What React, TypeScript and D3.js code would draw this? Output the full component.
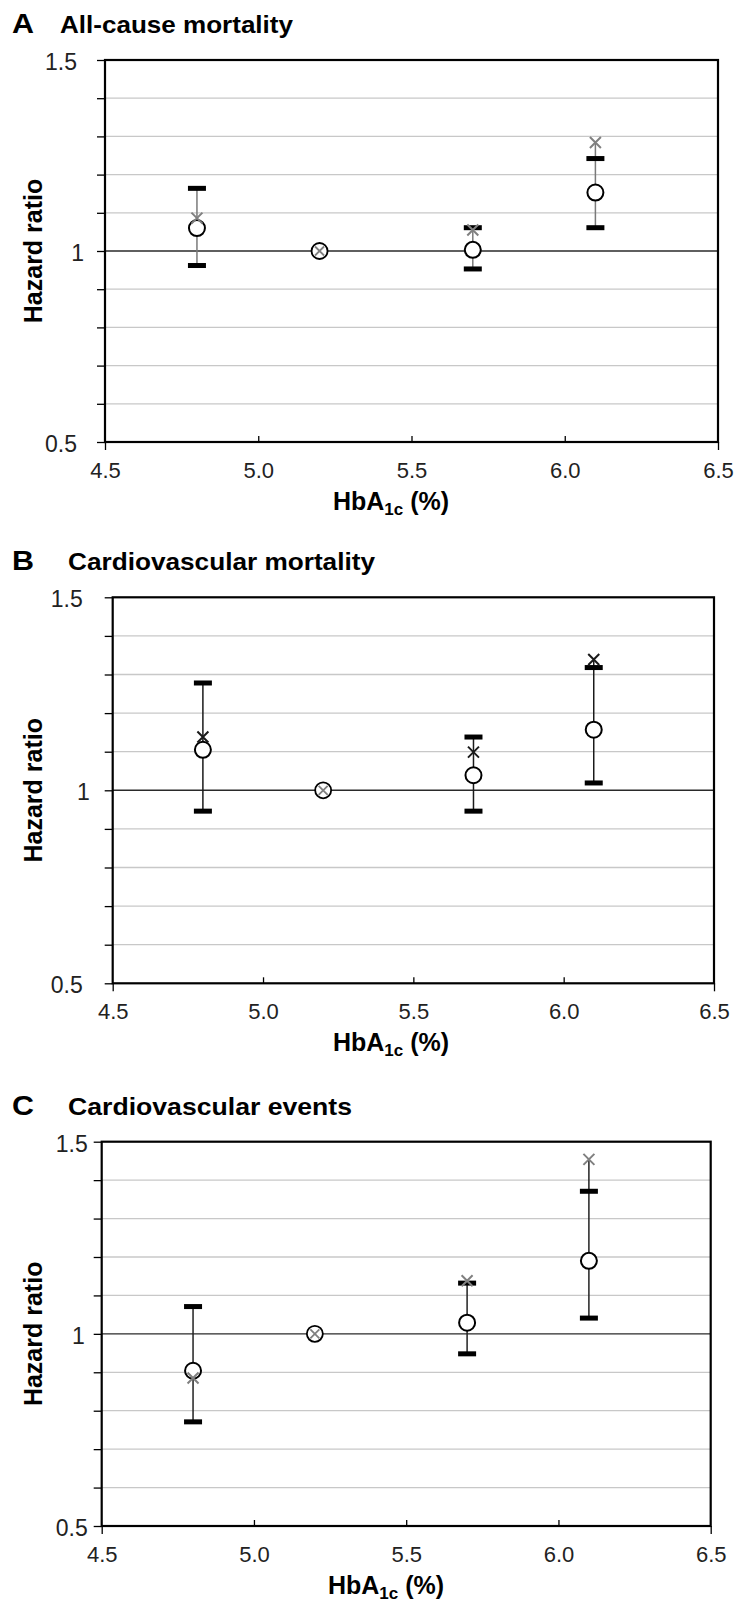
import { useEffect, useRef } from "react"
import * as d3 from "d3"

// HbA1c category midpoints (x) and axis ticks
const hba1c = [4.8, 5.2, 5.7, 6.1]
const xTicks = [4.5, 5.0, 5.5, 6.0, 6.5]
const yTicks = [0.5, 0.6, 0.7, 0.8, 0.9, 1.0, 1.1, 1.2, 1.3, 1.4, 1.5]
const yTickLabels = ["0.5", "", "", "", "", "1", "", "", "", "", "1.5"]
const xTickLabels = ["4.5", "5.0", "5.5", "6.0", "6.5"]

const letters = ["A", "B", "C"]
const titles = ["All-cause mortality", "Cardiovascular mortality", "Cardiovascular events"]

// A: all-cause mortality
const hrA = [1.06, 1.0, 1.003, 1.153]
const loA = [0.962, 1.0, 0.953, 1.061]
const hiA = [1.164, 1.0, 1.061, 1.242]
const crudeA = [1.086, 1.0, 1.055, 1.284]

// B: cardiovascular mortality
const hrB = [1.105, 1.0, 1.039, 1.157]
const loB = [0.946, 1.0, 0.946, 1.019]
const hiB = [1.278, 1.0, 1.138, 1.318]
const crudeB = [1.138, 1.0, 1.099, 1.339]

// C: cardiovascular events
const hrC = [0.904, 1.0, 1.029, 1.19]
const loC = [0.771, 1.0, 0.948, 1.041]
const hiC = [1.071, 1.0, 1.132, 1.371]
const crudeC = [0.885, 1.0, 1.138, 1.454]

const series = [
  { hr: hrA, lo: loA, hi: hiA, crude: crudeA },
  { hr: hrB, lo: loB, hi: hiB, crude: crudeB },
  { hr: hrC, lo: loC, hi: hiC, crude: crudeC },
]

// frame + text placement for each panel
const layouts = [
  { left: 105, right: 718, top: 60, bottom: 442, titleY: 33, titleX: 60, titleLen: 233, tickPad: 20, oneDx: 7, xLabelX: 391, barColor: "#7a7a7a", crossColor: "#808080" },
  { left: 112.7, right: 714, top: 597.3, bottom: 983.3, titleY: 570, titleX: 68, titleLen: 307, tickPad: 22, oneDx: 7, xLabelX: 391, barColor: "#1a1a1a", crossColor: "#1a1a1a" },
  { left: 101.7, right: 710.7, top: 1141.7, bottom: 1526, titleY: 1115, titleX: 68, titleLen: 284, tickPad: 6, oneDx: -3, xLabelX: 386, barColor: "#222", crossColor: "#808080" },
]

const FONT = "'Liberation Sans', Arial, Helvetica, sans-serif"

export default function App() {
  const svgRef = useRef<SVGSVGElement>(null)

  useEffect(() => {
    if (!svgRef.current) return
    const svg = d3.select(svgRef.current)
    svg.selectAll("*").remove()

    layouts.forEach((L, i) => {
      const d = series[i]
      const x = d3.scaleLinear().domain([4.5, 6.5]).range([L.left, L.right])
      const y = d3.scaleLinear().domain([0.5, 1.5]).range([L.bottom, L.top])
      const g = svg.append("g")

      // panel letter + title
      g.append("text")
        .attr("x", 12)
        .attr("y", L.titleY)
        .attr("font-family", FONT)
        .attr("font-weight", "bold")
        .attr("font-size", 28)
        .attr("textLength", 22)
        .attr("lengthAdjust", "spacingAndGlyphs")
        .text(letters[i])
      g.append("text")
        .attr("x", L.titleX)
        .attr("y", L.titleY)
        .attr("font-family", FONT)
        .attr("font-weight", "bold")
        .attr("font-size", 24)
        .attr("textLength", L.titleLen)
        .attr("lengthAdjust", "spacingAndGlyphs")
        .text(titles[i])

      // horizontal grid
      g.selectAll("line.grid")
        .data(yTicks.filter((v) => v !== 0.5 && v !== 1.5 && v !== 1.0))
        .join("line")
        .attr("class", "grid")
        .attr("x1", L.left)
        .attr("x2", L.right)
        .attr("y1", (v) => y(v))
        .attr("y2", (v) => y(v))
        .attr("stroke", "#c8c8c8")
        .attr("stroke-width", 1.3)

      // HR = 1 reference line
      g.append("line")
        .attr("x1", L.left)
        .attr("x2", L.right)
        .attr("y1", y(1))
        .attr("y2", y(1))
        .attr("stroke", "#2a2a2a")
        .attr("stroke-width", 1.4)

      // y axis
      const yAxis = g
        .append("g")
        .attr("transform", `translate(${L.left},0)`)
        .call(
          d3
            .axisLeft(y)
            .tickValues(yTicks)
            .tickSize(8)
            .tickPadding(L.tickPad)
            .tickFormat((_, k) => yTickLabels[k]),
        )
      yAxis.select(".domain").remove()
      yAxis.selectAll("line").attr("stroke", "#000").attr("stroke-width", 1.3)
      yAxis
        .selectAll("text")
        .attr("font-family", FONT)
        .attr("font-size", 23)
        .attr("fill", "#222")
        .attr("dy", "0.42em")
        .attr("dx", (v) => (v === 1 ? L.oneDx : 0))

      // x axis
      const xAxis = g
        .append("g")
        .attr("transform", `translate(0,${L.bottom})`)
        .call(
          d3
            .axisBottom(x)
            .tickValues(xTicks)
            .tickSize(-6)
            .tickPadding(20)
            .tickFormat((_, k) => xTickLabels[k]),
        )
      xAxis.select(".domain").remove()
      xAxis
        .selectAll("line")
        .attr("stroke", "#000")
        .attr("stroke-width", 1.3)
        .attr("y2", (v) => (v === 4.5 || v === 6.5 ? 8 : -6))
      xAxis
        .selectAll("text")
        .attr("font-family", FONT)
        .attr("font-size", 22)
        .attr("fill", "#222")

      // frame
      g.append("rect")
        .attr("x", L.left)
        .attr("y", L.top)
        .attr("width", L.right - L.left)
        .attr("height", L.bottom - L.top)
        .attr("fill", "none")
        .attr("stroke", "#000")
        .attr("stroke-width", 2.2)

      // axis titles
      g.append("text")
        .attr("transform", `translate(42,${(L.top + L.bottom) / 2}) rotate(-90)`)
        .attr("text-anchor", "middle")
        .attr("font-family", FONT)
        .attr("font-weight", "bold")
        .attr("font-size", 25)
        .text("Hazard ratio")

      const xl = g
        .append("text")
        .attr("x", L.xLabelX)
        .attr("y", L.bottom + 68)
        .attr("text-anchor", "middle")
        .attr("font-family", FONT)
        .attr("font-weight", "bold")
        .attr("font-size", 25)
      xl.append("tspan").text("HbA")
      xl.append("tspan").attr("font-size", 17).attr("dy", 5).text("1c")
      xl.append("tspan").attr("dy", -5).text(" (%)")

      // points
      hba1c.forEach((hx, j) => {
        const cx = x(hx)
        const isRef = d.lo[j] === d.hi[j]
        if (isRef) {
          g.append("circle")
            .attr("cx", cx)
            .attr("cy", y(d.hr[j]))
            .attr("r", 8)
            .attr("fill", "#fff")
            .attr("stroke", "#000")
            .attr("stroke-width", 1.8)
          const s = 4.5
          const cy = y(d.crude[j])
          g.append("path")
            .attr("d", `M${cx - s},${cy - s}L${cx + s},${cy + s}M${cx - s},${cy + s}L${cx + s},${cy - s}`)
            .attr("stroke", "#808080")
            .attr("stroke-width", 1.8)
          return
        }
        const top = Math.max(d.hi[j], d.crude[j])
        const bot = Math.min(d.lo[j], d.crude[j])
        g.append("line")
          .attr("x1", cx)
          .attr("x2", cx)
          .attr("y1", y(top))
          .attr("y2", y(bot))
          .attr("stroke", L.barColor)
          .attr("stroke-width", 1.5)
        ;[d.lo[j], d.hi[j]].forEach((v) => {
          g.append("rect")
            .attr("x", cx - 9)
            .attr("y", y(v) - 2.5)
            .attr("width", 18)
            .attr("height", 5)
            .attr("fill", "#000")
        })
        g.append("circle")
          .attr("cx", cx)
          .attr("cy", y(d.hr[j]))
          .attr("r", 8)
          .attr("fill", "#fff")
          .attr("stroke", "#000")
          .attr("stroke-width", 2)
        const s = 5.5
        const cy = y(d.crude[j])
        g.append("path")
          .attr("d", `M${cx - s},${cy - s}L${cx + s},${cy + s}M${cx - s},${cy + s}L${cx + s},${cy - s}`)
          .attr("stroke", L.crossColor)
          .attr("stroke-width", 2)
      })
    })
  }, [])

  return (
    <svg
      ref={svgRef}
      width={741}
      height={1603}
      style={{ position: "absolute", left: 0, top: 0, background: "#fff" }}
    />
  )
}
